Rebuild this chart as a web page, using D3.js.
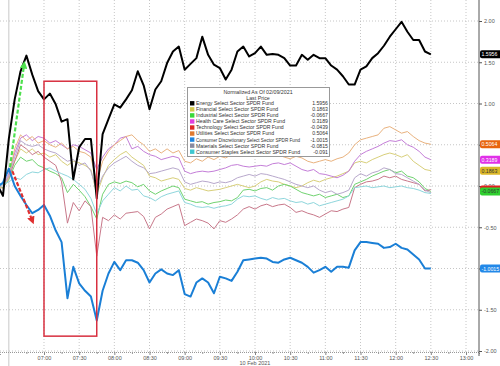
<!DOCTYPE html>
<html><head><meta charset="utf-8">
<script src="https://cdn.jsdelivr.net/npm/d3@7"></script>
<style>body{margin:0;background:#fff} svg{display:block;font-family:"Liberation Sans",Arial,sans-serif}</style>
</head><body><svg id="c" width="500" height="366"></svg>
<script>
const times = ["06:20","06:25","06:30","06:35","06:40","06:45","06:50","06:55",
"07:00","07:05","07:10","07:15","07:20","07:25","07:30","07:35","07:40","07:45","07:50","07:55",
"08:00","08:05","08:10","08:15","08:20","08:25","08:30","08:35","08:40","08:45","08:50","08:55",
"09:00","09:05","09:10","09:15","09:20","09:25","09:30","09:35","09:40","09:45","09:50","09:55",
"10:00","10:05","10:10","10:15","10:20","10:25","10:30","10:35","10:40","10:45","10:50","10:55",
"11:00","11:05","11:10","11:15","11:20","11:25","11:30","11:35","11:40","11:45","11:50","11:55",
"12:00","12:05","12:10","12:15","12:20","12:25","12:30"];

const energy = [0.02,-0.12,0.57,1.05,1.39,1.58,1.35,1.15,
 1.05,1.12,0.99,0.78,0.81,0.08,0.47,0.57,0.57,-0.15,0.63,0.81,
 0.99,0.95,1.05,1.16,1.39,1.22,0.93,1.17,1.27,1.49,1.63,1.69,
 1.41,1.48,1.55,1.81,1.59,1.47,1.43,1.29,1.41,1.63,1.69,1.57,
 1.61,1.69,1.59,1.60,1.59,1.55,1.46,1.46,1.59,1.53,1.59,1.55,
 1.55,1.46,1.41,1.33,1.23,1.23,1.41,1.45,1.55,1.61,1.70,1.81,
 1.90,1.99,1.87,1.77,1.77,1.63,1.5956];
const financial = [0.00,0.02,0.12,0.30,0.45,0.40,0.45,0.38,
 0.40,0.35,0.38,0.30,0.25,0.30,0.28,0.25,0.20,-0.10,0.10,0.25,
 0.32,0.38,0.42,0.35,0.30,0.25,0.12,0.10,0.06,0.08,0.10,0.08,
 -0.03,-0.05,-0.02,-0.04,-0.06,-0.05,-0.04,-0.02,0.00,0.02,0.00,-0.02,
 0.00,0.05,0.08,0.06,0.05,0.02,0.00,-0.02,0.00,0.04,0.07,0.05,
 0.08,0.10,0.12,0.15,0.18,0.28,0.30,0.28,0.32,0.35,0.38,0.40,
 0.38,0.35,0.38,0.30,0.25,0.20,0.1863];
const industrial = [0.00,-0.02,0.08,0.25,0.35,0.30,0.32,0.25,
 0.22,0.18,0.15,0.10,-0.08,0.02,-0.05,-0.13,-0.25,-0.40,-0.10,0.02,
 0.05,0.03,0.06,0.04,-0.01,0.02,-0.06,-0.10,-0.06,-0.03,0.00,-0.02,
 -0.16,-0.18,-0.20,-0.19,-0.22,-0.20,-0.19,-0.17,-0.18,-0.14,-0.05,-0.04,
 -0.06,-0.03,-0.02,-0.05,0.00,0.02,0.00,-0.04,-0.08,-0.10,-0.12,-0.10,
 -0.14,-0.12,-0.10,-0.14,-0.12,0.02,0.05,0.08,0.12,0.15,0.18,0.20,
 0.16,0.18,0.12,0.10,0.05,-0.03,-0.0667];
const healthCare = [0.00,0.02,0.15,0.40,0.58,0.62,0.55,0.60,
 0.58,0.52,0.55,0.50,0.45,0.50,0.48,0.44,0.40,0.20,0.35,0.45,
 0.50,0.58,0.60,0.45,0.48,0.42,0.38,0.36,0.32,0.34,0.36,0.34,
 0.18,0.15,0.17,0.18,0.17,0.18,0.20,0.22,0.25,0.26,0.24,0.23,
 0.24,0.25,0.24,0.27,0.28,0.26,0.28,0.24,0.20,0.18,0.20,0.15,
 0.14,0.12,0.10,0.13,0.18,0.30,0.38,0.42,0.45,0.48,0.52,0.55,
 0.54,0.56,0.50,0.47,0.42,0.35,0.3189];
const technology = [0.00,0.03,0.10,0.30,0.50,0.45,0.38,0.42,
 0.35,0.30,0.25,0.05,-0.45,-0.20,-0.30,-0.18,-0.25,-0.85,-0.38,-0.42,
 -0.35,-0.40,-0.33,-0.32,-0.31,-0.37,-0.52,-0.38,-0.34,-0.28,-0.25,-0.22,
 -0.48,-0.44,-0.40,-0.42,-0.45,-0.52,-0.42,-0.44,-0.40,-0.35,-0.28,-0.25,
 -0.28,-0.24,-0.22,-0.25,-0.23,-0.22,-0.26,-0.32,-0.30,-0.33,-0.35,-0.38,
 -0.34,-0.30,-0.31,-0.28,-0.26,-0.02,0.02,0.05,0.06,0.08,0.12,0.10,
 0.12,0.08,0.06,0.04,0.02,-0.06,-0.0439];
const utilities = [0.00,-0.03,0.10,0.45,0.62,0.55,0.60,0.52,
 0.55,0.50,0.47,0.52,0.45,0.48,0.42,0.40,0.35,0.05,0.30,0.42,
 0.50,0.55,0.60,0.62,0.55,0.50,0.42,0.45,0.40,0.45,0.40,0.43,
 0.30,0.28,0.33,0.30,0.35,0.32,0.36,0.34,0.38,0.36,0.40,0.37,
 0.40,0.43,0.40,0.42,0.38,0.35,0.33,0.36,0.34,0.30,0.28,0.30,
 0.32,0.30,0.33,0.35,0.40,0.50,0.56,0.58,0.60,0.62,0.70,0.72,
 0.68,0.64,0.66,0.60,0.55,0.52,0.5064];
const consDiscretionary = [-0.01,0.04,0.21,0.00,-0.12,-0.23,-0.33,-0.29,
 -0.23,-0.36,-0.54,-0.68,-1.36,-0.98,-1.18,-1.27,-1.34,-1.63,-1.27,-1.06,
 -0.92,-1.02,-0.90,-0.90,-0.93,-1.02,-1.17,-1.06,-1.01,-1.06,-1.08,-1.02,
 -1.31,-1.34,-1.17,-1.12,-1.17,-1.30,-1.10,-1.12,-1.15,-1.04,-0.90,-0.89,
 -0.88,-0.87,-0.88,-0.92,-0.93,-0.89,-0.87,-0.90,-0.93,-0.98,-1.05,-1.02,
 -0.98,-1.04,-0.98,-0.98,-0.99,-0.78,-0.68,-0.68,-0.69,-0.70,-0.75,-0.74,
 -0.70,-0.75,-0.77,-0.83,-0.89,-1.00,-1.0015];
const materials = [0.00,0.00,0.12,0.35,0.55,0.50,0.48,0.50,
 0.45,0.42,0.40,0.35,0.30,0.32,0.25,0.28,0.18,-0.05,0.12,0.22,
 0.28,0.32,0.36,0.30,0.25,0.22,0.15,0.16,0.18,0.20,0.22,0.20,
 0.05,0.02,0.04,0.06,0.05,0.03,0.05,0.04,0.06,0.10,0.12,0.14,
 0.12,0.15,0.14,0.12,0.10,0.08,0.05,0.02,0.00,-0.02,0.00,-0.05,
 -0.08,-0.06,-0.10,-0.08,-0.05,0.10,0.15,0.12,0.16,0.18,0.22,0.20,
 0.15,0.14,0.10,0.06,0.02,-0.05,-0.0815];
const consStaples = [0.00,0.02,0.05,0.10,0.08,0.14,0.17,0.16,
 0.20,0.22,0.18,0.15,0.12,0.08,0.02,-0.04,-0.15,-0.34,-0.18,-0.10,
 -0.02,-0.06,0.00,-0.05,-0.04,-0.12,-0.14,-0.18,-0.13,-0.10,-0.08,-0.06,
 -0.20,-0.22,-0.25,-0.26,-0.25,-0.27,-0.25,-0.24,-0.22,-0.16,-0.12,-0.13,
 -0.12,-0.15,-0.17,-0.14,-0.16,-0.15,-0.18,-0.20,-0.19,-0.22,-0.20,-0.24,
 -0.22,-0.20,-0.18,-0.16,-0.12,-0.02,-0.01,0.00,-0.02,-0.01,0.00,-0.02,
 -0.01,0.00,-0.02,-0.03,-0.05,-0.08,-0.091];

const seriesNames = ["Energy Select Sector SPDR Fund","Financial Select Sector SPDR Fund","Industrial Select Sector SPDR Fund","Health Care Select Sector SPDR Fund","Technology Select Sector SPDR Fund","Utilities Select Sector SPDR Fund","Consumer Discretionary Select Sector SPDR Fund","Materials Select Sector SPDR Fund","Consumer Staples Select Sector SPDR Fund"];
const lastPriceLabels = ["1.5956","0.1863","-0.0667","0.3189","-0.0439","0.5064","-1.0015","-0.0815","-0.091"];
const yTickValues = [2,1.5,1,0.5,0,-0.5,-1,-1.5,-2];
const xTickLabels = ["07:00","07:30","08:00","08:30","09:00","09:30","10:00","10:30","11:00","11:30","12:00","12:30","13:00"];
const xMinorTicks = ["06:45","07:15","07:45","08:15","08:45","09:15","09:45","10:15","10:45","11:15","11:45","12:15","12:45"];
const dateLabel = "10 Feb 2021";
const legendTitle = ["Normalized As Of 02/09/2021","Last Price"];
// annotations (time, value)
const boxTimes = ["07:00","07:45"], boxValues = [1.27,-1.82];
const greenArrow = [["06:31",0.23],["06:43",1.47]];
const redArrow = [["06:33",0.18],["06:50",-0.42]];

const allSeries = [energy,financial,industrial,healthCare,technology,utilities,consDiscretionary,materials,consStaples];
const swatchColors = ["#000000","#d4c84c","#3ad83a","#e040e0","#e02828","#e07a30","#1f85e0","#8a8aa0","#40c8d0"];
const lineColors = ["#000000","#d8cf7a","#70d370","#c47ed8","#c8788a","#e9b27e","#1a7fd6","#b8a8cc","#8ed6dc"];
const lineWidths = [2,1,1,1,1,1,2,1,1];

const svg = d3.select("#c");
const parse = d3.timeParse("%H:%M");
const parseS = d3.timeParse("%H:%M:%S");
const x = d3.scaleTime().domain([parseS("06:22:28"), parseS("13:11:05")]).range([0,479]);
const y = d3.scaleLinear().domain([-2,2]).range([351,21]);

// grid
const grid = svg.append("g");
grid.selectAll(".hg").data(yTickValues).join("line")
  .attr("x1",0).attr("x2",479).attr("y1",d=>y(d)).attr("y2",d=>y(d))
  .attr("stroke","#b8b8b8").attr("stroke-width",0.8).attr("stroke-dasharray","1,2");
grid.selectAll(".vg").data(xTickLabels).join("line")
  .attr("x1",d=>x(parse(d))).attr("x2",d=>x(parse(d))).attr("y1",0).attr("y2",352)
  .attr("stroke","#b8b8b8").attr("stroke-width",0.8).attr("stroke-dasharray","1,2");
svg.append("line").attr("x1",x(parse("06:30"))).attr("x2",x(parse("06:30"))).attr("y1",0).attr("y2",366)
  .attr("stroke","#c8c8c8").attr("stroke-width",1);

// bottom axis
const xa = svg.append("g").attr("transform","translate(0,352)")
  .call(d3.axisBottom(x).tickValues(xTickLabels.map(parse)).tickFormat(d3.timeFormat("%H:%M")).tickSize(3).tickPadding(1));
xa.select(".domain").attr("stroke","#999").attr("stroke-dasharray","1,1");
xa.selectAll(".tick line").attr("stroke","#888");
xa.selectAll("text").attr("font-size",5.5).attr("fill","#555").attr("font-family","Liberation Sans, Arial, sans-serif");
const xm = svg.append("g").attr("transform","translate(0,352)")
  .call(d3.axisBottom(x).tickValues(xMinorTicks.map(parse)).tickFormat("").tickSize(2));
xm.select(".domain").remove();
xm.selectAll(".tick line").attr("stroke","#999");
svg.append("text").attr("x",x(parse("10:00"))).attr("y",365).attr("text-anchor","middle")
  .attr("font-size",5.5).attr("fill","#555").text(dateLabel);

// lines
const line = d3.line().x((d,i)=>x(parse(times[i]))).y(d=>y(d));
const drawOrder = [1,2,3,4,5,7,8,6,0];
drawOrder.forEach(k=>{
  svg.append("path").datum(allSeries[k]).attr("d",line).attr("fill","none")
    .attr("stroke",lineColors[k]).attr("stroke-width",lineWidths[k]).attr("stroke-linejoin","round");
});

// right axis
svg.append("line").attr("x1",479).attr("x2",479).attr("y1",0).attr("y2",356).attr("stroke","#555").attr("stroke-width",1);
const labelOrder = [4,2,1,3,5,6,0];
const labelYs = labelOrder.map(k=>y(allSeries[k][allSeries[k].length-1]));
const visibleTicks = yTickValues.filter(v=>v===0 || !labelYs.some(ly=>Math.abs(ly-y(v))<6));
const ya = svg.append("g").attr("transform","translate(479,0)")
  .call(d3.axisRight(y).tickValues(yTickValues).tickFormat(d=>visibleTicks.includes(d)?d.toFixed(2):"").tickSize(3).tickPadding(2));
ya.select(".domain").remove();
ya.selectAll(".tick line").attr("stroke","#555");
ya.selectAll("text").attr("font-size",5.5).attr("fill","#555").attr("font-family","Liberation Sans, Arial, sans-serif");

// right value tags
const labelFill = {0:"#000000",1:"#dcb828",2:"#2fd02f",3:"#e030e8",4:"#e02020",5:"#e8650f",6:"#2288e8"};
const labelText = {0:"#fff",1:"#333",2:"#333",3:"#fff",4:"#fff",5:"#fff",6:"#fff"};
labelOrder.forEach(k=>{
  const s = allSeries[k], v = s[s.length-1];
  const g = svg.append("g").attr("transform",`translate(480,${y(v)})`);
  g.append("rect").attr("x",0).attr("y",-4).attr("width",22).attr("height",8).attr("rx",2).attr("fill",labelFill[k]);
  if (k !== 4) g.append("text").attr("x",1.5).attr("y",1.9).attr("font-size",5.2).attr("fill",labelText[k]).text(lastPriceLabels[k]);
});

// legend
const lg = svg.append("g");
lg.append("rect").attr("x",187.5).attr("y",87.5).attr("width",142).attr("height",69).attr("fill","#fff").attr("stroke","#999").attr("stroke-width",1);
lg.selectAll(".lt").data(legendTitle).join("text").attr("x",258).attr("y",(d,i)=>93.6+i*6)
  .attr("text-anchor","middle").attr("font-size",5.3).attr("fill","#333").text(d=>d);
seriesNames.forEach((n,i)=>{
  const yy = 103.3 + i*6.05;
  lg.append("rect").attr("x",190).attr("y",yy-2.2).attr("width",4.4).attr("height",4.4).attr("fill",swatchColors[i]);
  const t = lg.append("text").attr("x",196).attr("y",yy+1.9).attr("font-size",5.2).attr("fill","#333").text(n);
  const w = t.node().getComputedTextLength();
  if (w > 104) t.attr("font-size", 5.2*104/w);
  lg.append("text").attr("x",328).attr("y",yy+1.9).attr("text-anchor","end").attr("font-size",5.2).attr("fill","#333").text(lastPriceLabels[i]);
});

// annotations
svg.append("rect").attr("x",x(parse(boxTimes[0]))).attr("y",y(boxValues[0]))
  .attr("width",x(parse(boxTimes[1]))-x(parse(boxTimes[0]))).attr("height",y(boxValues[1])-y(boxValues[0]))
  .attr("fill","none").attr("stroke","#d83040").attr("stroke-width",1.5);
const defs = svg.append("defs");
[["ga","#4ee04e"],["ra","#e03030"]].forEach(([id,c])=>{
  defs.append("marker").attr("id",id).attr("viewBox","0 0 10 10").attr("refX",5).attr("refY",5)
    .attr("markerWidth",3.5).attr("markerHeight",3.5).attr("orient","auto")
    .append("path").attr("d","M0,0L10,5L0,10Z").attr("fill",c);
});
[[greenArrow,"#4ee04e","ga"],[redArrow,"#e03030","ra"]].forEach(([a,c,id])=>{
  svg.append("line").attr("x1",x(parse(a[0][0]))).attr("y1",y(a[0][1]))
    .attr("x2",x(parse(a[1][0]))).attr("y2",y(a[1][1]))
    .attr("stroke",c).attr("stroke-width",2.2).attr("stroke-dasharray","4,2").attr("marker-end",`url(#${id})`);
});
</script></body></html>
